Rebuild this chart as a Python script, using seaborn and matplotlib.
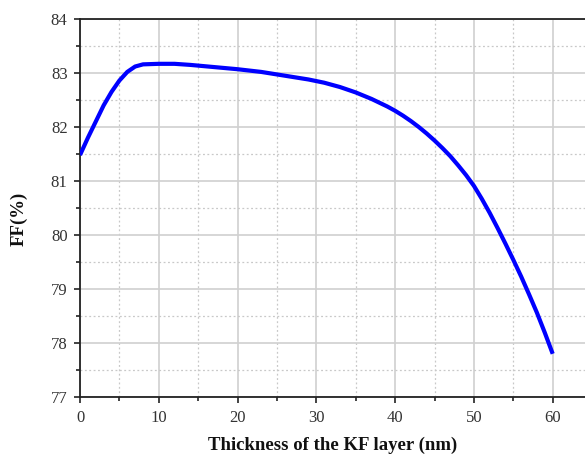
import matplotlib
matplotlib.use("Agg")
import matplotlib.pyplot as plt
from matplotlib.ticker import MultipleLocator
import seaborn as sns
import pandas as pd

thickness_nm = [0, 1, 2, 3, 4, 5, 6, 7, 8, 10, 12, 14, 17, 20, 23, 26, 29, 31, 33, 35,
                37, 39, 40, 41, 42, 43, 44, 45, 46, 47, 48, 49, 50, 51, 52, 53, 54,
                55, 56, 57, 58, 59, 60]
ff_percent = [81.48, 81.80, 82.10, 82.40, 82.65, 82.86, 83.02, 83.12, 83.16, 83.17,
              83.17, 83.15, 83.11, 83.07, 83.02, 82.95, 82.88, 82.82, 82.74, 82.64,
              82.52, 82.38, 82.30, 82.21, 82.11, 82.00, 81.88, 81.75, 81.61, 81.46,
              81.29, 81.11, 80.91, 80.67, 80.41, 80.13, 79.84, 79.54, 79.23, 78.90,
              78.56, 78.19, 77.80]

df = pd.DataFrame({"thickness": thickness_nm, "ff": ff_percent})

sns.set_theme(style="white")
plt.rcParams["font.family"] = ["Liberation Serif", "DejaVu Serif"]

fig = plt.figure(figsize=(5.85, 4.54), dpi=100)
ax = fig.add_axes([80 / 585, 57 / 454, 1 - 80 / 585, 378 / 454])

sns.lineplot(data=df, x="thickness", y="ff", ax=ax, color="#0000ff",
             linewidth=3.0, solid_capstyle="butt", solid_joinstyle="round", zorder=3)

ax.set_xlim(0, 64.1)
ax.set_ylim(77, 84)
ax.xaxis.set_major_locator(MultipleLocator(10))
ax.xaxis.set_minor_locator(MultipleLocator(5))
ax.yaxis.set_major_locator(MultipleLocator(1))
ax.yaxis.set_minor_locator(MultipleLocator(0.5))

ax.grid(which="major", color="#d0d0d0", linewidth=1.2, linestyle="-", zorder=0)
ax.grid(which="minor", color="#c8c8c8", linewidth=0.9, linestyle=(0, (1.5, 2)), zorder=0)
ax.set_axisbelow(True)

for side in ("left", "bottom", "top"):
    ax.spines[side].set_visible(True)
    ax.spines[side].set_color("#222222")
    ax.spines[side].set_linewidth(1.3)
ax.spines["right"].set_visible(False)

ax.tick_params(axis="both", which="major", direction="out", length=4, width=1.2,
               color="#222222", labelsize=12, labelcolor="#333333",
               bottom=True, left=True, top=False, right=False)
ax.tick_params(axis="x", which="major", pad=5)
ax.tick_params(axis="y", which="major", pad=5)
ax.tick_params(axis="both", which="minor", direction="out", length=3, width=1.2,
               color="#222222", bottom=True, left=True, top=False, right=False)

ax.set_xlabel("Thickness of the KF layer (nm)", fontsize=13.5, fontweight="bold", color="#111111")
ax.set_ylabel("FF(%)", fontsize=13.5, fontweight="bold", color="#111111")
ax.xaxis.set_label_coords(0.5, -0.105)
ax.yaxis.set_label_coords(-0.104, 0.47)

fig.savefig("out.png", dpi=100)
